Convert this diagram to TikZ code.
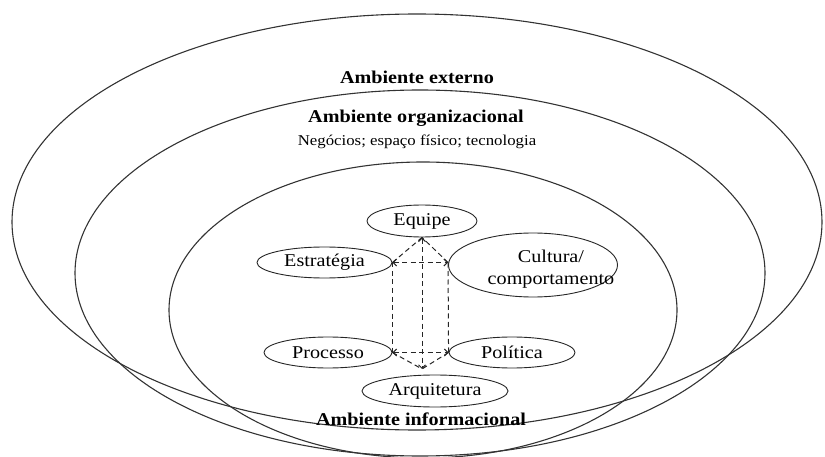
\documentclass[tikz,border=0pt]{standalone}
\usepackage{fontspec}
\setmainfont{Liberation Serif}[FakeStretch=1.12]
\usetikzlibrary{shapes.geometric,arrows.meta}
\begin{document}
\begin{tikzpicture}[x=1pt,y=-1pt,
  big/.style={draw=black!80,line width=1.1pt},
  oval/.style={ellipse,draw=black!85,line width=0.9pt,inner sep=0pt},
  lbl/.style={font=\fontsize{18}{22}\selectfont},
  ttl/.style={font=\fontsize{18}{22}\selectfont\bfseries},
  sub/.style={font=\fontsize{15}{17}\selectfont},
  dsh/.style={draw=black!85,dash pattern=on 5pt off 3.5pt,line width=1pt},
  both/.style={{Straight Barb[length=3.5pt,width=7pt]}-{Straight Barb[length=3.5pt,width=7pt]}}
]
\useasboundingbox (0,0) rectangle (825,457);
% environments
\draw[big] (417,222) ellipse [x radius=405pt, y radius=208pt];
\draw[big] (420,273) ellipse [x radius=345pt, y radius=183pt];
\draw[big] (423,310) ellipse [x radius=254pt, y radius=148pt];
% titles
\node[ttl] (ext) at (417,77) {Ambiente externo};
\node[ttl] (org) at (416,118) {Ambiente organizacional};
\node[sub] (neg) at (417,142) {Negócios; espaço físico; tecnologia};
\node[ttl] (inf) at (421,419) {Ambiente informacional};
% inner ovals
\node[oval, lbl, minimum width=110pt, minimum height=32pt] (equ) at (422,221) {Equipe};
\node[oval, lbl, minimum width=135pt, minimum height=31pt] (est) at (324.5,262.5) {Estratégia};
\node[oval, minimum width=169pt, minimum height=64pt] (cul) at (533,265) {};
\node[lbl, align=center] (cult) at (551,269) {Cultura/\\comportamento};
\node[oval, lbl, minimum width=128pt, minimum height=31pt] (pro) at (328,352.5) {Processo};
\node[oval, lbl, minimum width=126pt, minimum height=31pt] (pol) at (512,352.5) {Política};
\node[oval, lbl, minimum width=146pt, minimum height=32pt] (arq) at (435,391) {Arquitetura};
\coordinate (bot) at (422,369);
\coordinate (tr) at (est.east -| cul.west);
% dashed prism
\draw[dsh] (est.east) -- (pro.east);
\draw[dsh] (tr) -- (pol.west);
\draw[dsh] (est.east) -- (equ.south);
\draw[dsh] (tr) -- (equ.south);
\draw[dsh] (pro.east) -- (bot);
\draw[dsh] (pol.west) -- (bot);
\draw[dsh, both] (est.east) -- (tr);
\draw[dsh, both] (pro.east) -- (pol.west);
\draw[dsh, both] (equ.south) -- (bot);
\end{tikzpicture}
\end{document}
